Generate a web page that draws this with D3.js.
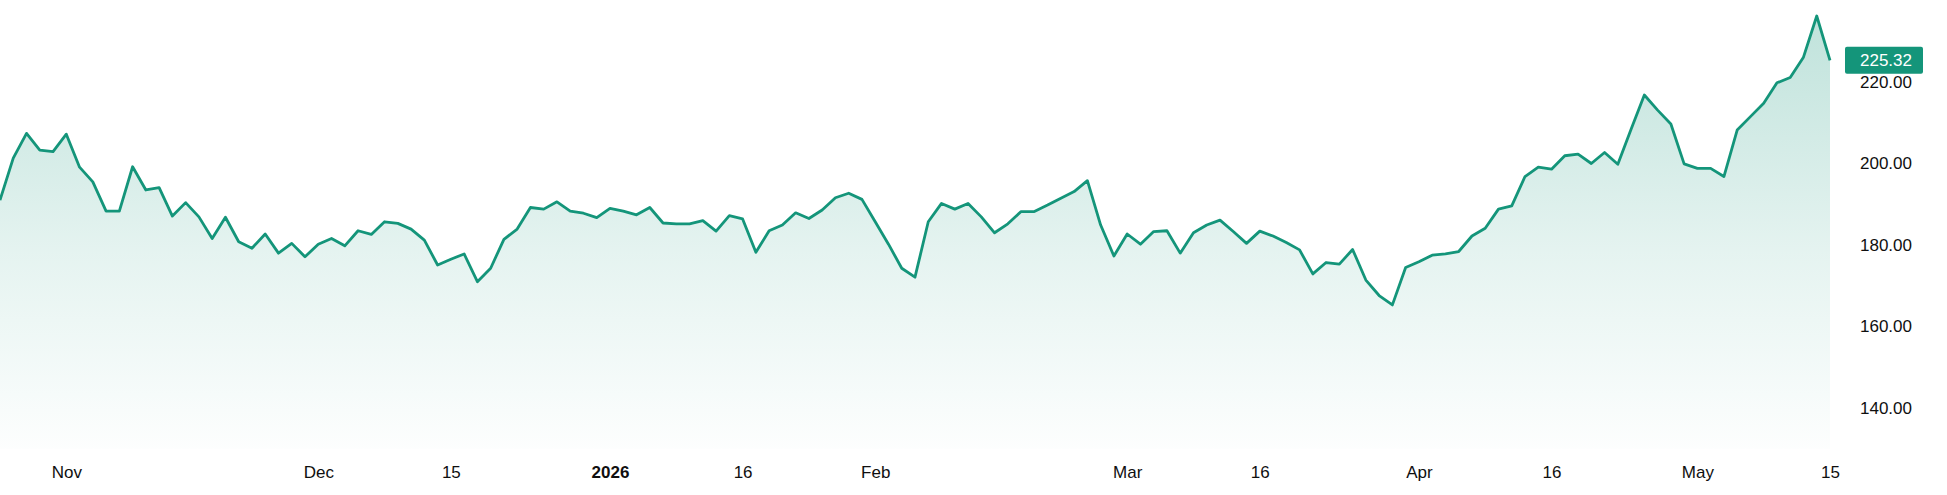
<!DOCTYPE html>
<html>
<head>
<meta charset="utf-8">
<script src="https://cdn.jsdelivr.net/npm/d3@7"></script>
<style>
    html, body { margin: 0; padding: 0; background: #fff; }
    #container { width: 1947px; height: 495px; }
    text { font-family: "Liberation Sans", Arial, sans-serif; }
</style>
</head>
<body>
<div id="container"></div>
<script>
const $ = (...args) => document.querySelector(...args);

// daily closes, one per trading bar (Oct 27 .. May 15)
const closes = [
    191.0, 201.3, 207.4, 203.3, 202.9, 207.2, 199.1, 195.5, 188.3, 188.3,
    199.2, 193.5, 194.1, 187.1, 190.4, 186.9, 181.6, 186.8, 180.8, 179.2,
    182.7, 178.0, 180.4, 177.1, 180.2, 181.6, 179.8, 183.5, 182.6, 185.7,
    185.3, 183.9, 181.2, 175.1, 176.5, 177.8, 171.0, 174.3, 181.4, 183.9,
    189.2, 188.8, 190.6, 188.3, 187.8, 186.7, 189.0, 188.3, 187.4, 189.2,
    185.4, 185.2, 185.2, 186.0, 183.4, 187.2, 186.4, 178.2, 183.5, 184.9,
    187.9, 186.5, 188.6, 191.6, 192.7, 191.2, 185.7, 180.2, 174.3, 172.1,
    185.7, 190.2, 188.8, 190.2, 186.9, 183.0, 185.2, 188.2, 188.2, 189.8,
    191.5, 193.1, 195.8, 184.9, 177.3, 182.7, 180.2, 183.3, 183.5, 178.0,
    183.0, 184.9, 186.1, 183.3, 180.4, 183.4, 182.2, 180.6, 178.8, 172.9,
    175.7, 175.3, 178.9, 171.4, 167.6, 165.3, 174.5, 175.9, 177.5, 177.8,
    178.4, 182.2, 184.1, 188.8, 189.6, 196.8, 199.1, 198.6, 201.9, 202.3,
    200.0, 202.7, 199.8, 208.4, 216.8, 213.1, 209.7, 199.9, 198.8, 198.8,
    196.8, 208.2, 211.5, 214.8, 219.8, 221.1, 226.1, 236.2, 225.32
];

// x ticks: bar index -> label
const tickBars = [5, 24, 34, 46, 56, 66, 85, 95, 107, 117, 128, 138];
const tickLabels = ['Nov', 'Dec', '15', '2026', '16', 'Feb', 'Mar', '16', 'Apr', '16', 'May', '15'];
const boldLabels = ['2026'];

const priceTicks = [140, 160, 180, 200, 220];

const W = 1947, H = 495;
const lineColor = '#14957a';
const textColor = '#0f0f0f';
const fontSize = 17;

const svg = d3.select($('#container'))
    .append('svg')
    .attr('width', W)
    .attr('height', H)
    .attr('viewBox', [0, 0, W, H]);

const x = d3.scaleLinear().domain([0, closes.length - 1]).range([0, 1830]);
const y = d3.scaleLinear().domain([140, 220]).range([408, 82]);
const bottom = y(130);

const grad = svg.append('defs').append('linearGradient')
    .attr('id', 'fillGrad')
    .attr('gradientUnits', 'userSpaceOnUse')
    .attr('x1', 0).attr('x2', 0)
    .attr('y1', y(d3.max(closes))).attr('y2', bottom);
grad.append('stop').attr('offset', '0%').attr('stop-color', lineColor).attr('stop-opacity', 0.27);
grad.append('stop').attr('offset', '55%').attr('stop-color', lineColor).attr('stop-opacity', 0.11);
grad.append('stop').attr('offset', '100%').attr('stop-color', lineColor).attr('stop-opacity', 0.01);

const area = d3.area()
    .x((d, i) => x(i))
    .y0(bottom)
    .y1(d => y(d));

const line = d3.line()
    .x((d, i) => x(i))
    .y(d => y(d));

svg.append('path')
    .datum(closes)
    .attr('d', area)
    .attr('fill', 'url(#fillGrad)');

svg.append('path')
    .datum(closes)
    .attr('d', line)
    .attr('fill', 'none')
    .attr('stroke', lineColor)
    .attr('stroke-width', 2.8)
    .attr('stroke-linejoin', 'round');

// price scale on the right
const yAxis = svg.append('g')
    .attr('transform', 'translate(1860,0)')
    .call(d3.axisRight(y).tickValues(priceTicks).tickSize(0).tickPadding(0).tickFormat(d3.format('.2f')));
yAxis.select('.domain').remove();
yAxis.selectAll('text')
    .attr('fill', textColor)
    .style('font-size', fontSize + 'px')
    .style('font-family', '"Liberation Sans", Arial, sans-serif');

// time scale
const xAxis = svg.append('g')
    .attr('transform', 'translate(0,460)')
    .call(d3.axisBottom(x).tickValues(tickBars).tickSize(0).tickPadding(6).tickFormat((d, i) => tickLabels[i]));
xAxis.select('.domain').remove();
xAxis.selectAll('text')
    .attr('fill', textColor)
    .style('font-size', fontSize + 'px')
    .style('font-family', '"Liberation Sans", Arial, sans-serif')
    .style('font-weight', (d, i) => boldLabels.includes(tickLabels[i]) ? 'bold' : 'normal');

// last price badge
const last = closes[closes.length - 1];
const badge = svg.append('g').attr('transform', `translate(1845,${y(last)})`);
badge.append('rect')
    .attr('x', 0).attr('y', -13.5)
    .attr('width', 78).attr('height', 27)
    .attr('rx', 2)
    .attr('fill', lineColor);
badge.append('text')
    .attr('x', 15).attr('dy', '0.35em')
    .attr('fill', '#fff')
    .style('font-size', fontSize + 'px')
    .text(last.toFixed(2));
</script>
</body>
</html>
